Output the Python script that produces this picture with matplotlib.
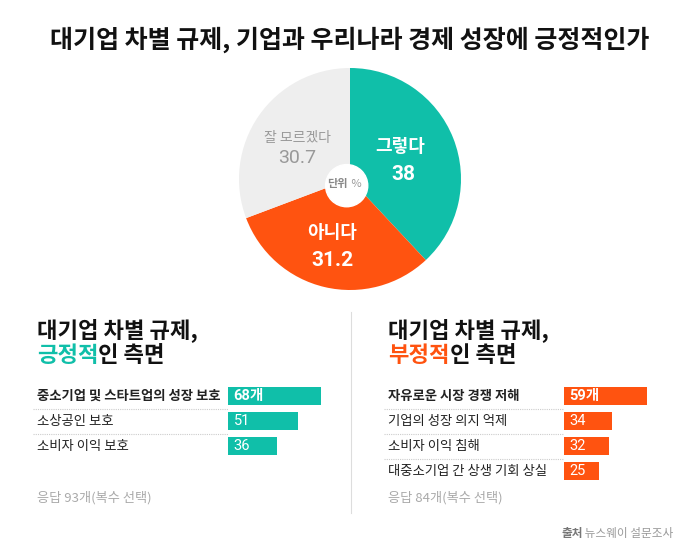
import matplotlib.pyplot as plt
from matplotlib.patches import Circle

plt.rcParams['font.family'] = ['Noto Sans CJK KR', 'DejaVu Sans']
NUM_FONT = ['Roboto', 'Noto Sans CJK KR']

# 조사 결과 (단위 %)
pie_labels = ['그렇다', '아니다', '잘 모르겠다']
pie_values = [38, 31.2, 30.7]
pie_colors = ['#10bfa9', '#ff5310', '#eeeeee']

# 긍정적 측면 (응답 93개, 복수 선택)
pos_labels = ['중소기업 및 스타트업의 성장 보호', '소상공인 보호', '소비자 이익 보호']
pos_values = [68, 51, 36]

# 부정적 측면 (응답 84개, 복수 선택)
neg_labels = ['자유로운 시장 경쟁 저해', '기업의 성장 의지 억제', '소비자 이익 침해',
              '대중소기업 간 상생 기회 상실']
neg_values = [59, 34, 32, 25]

TEAL = '#10bfa9'
ORANGE = '#ff5310'
W, H = 700, 552

fig = plt.figure(figsize=(7, 5.52), dpi=100)
fig.patch.set_facecolor('white')


def px_axes(x, y, w, h):
    # 픽셀 좌표(좌상단 기준)로 축 만들기
    return fig.add_axes([x / W, (H - y - h) / H, w / W, h / H])


# 파이 차트
cx, cy, r = 350, 179, 111
pax = px_axes(cx - r, cy - r, 2 * r, 2 * r)
pax.pie(pie_values, colors=pie_colors, startangle=90, counterclock=False,
        radius=1, wedgeprops=dict(linewidth=0))
pax.set_xlim(-1, 1)
pax.set_ylim(-1, 1)
pax.add_patch(Circle((-0.03, -0.06), 0.19, color='white', zorder=5))

# 글자용 덮개 축 (픽셀 좌표)
ax = fig.add_axes([0, 0, 1, 1])
ax.set_xlim(0, W)
ax.set_ylim(H, 0)
ax.axis('off')
ax.set_zorder(10)

ax.text(350, 40, '대기업 차별 규제, 기업과 우리나라 경제 성장에 긍정적인가',
        ha='center', va='center', fontsize=18, fontweight='heavy', color='#111111')

ax.text(348, 184, '단위', ha='right', va='center', fontsize=8,
        fontweight='bold', color='#888888')
ax.text(349, 184, ' %', ha='left', va='center', fontsize=8, color='#999999')

ax.text(400, 147, pie_labels[0], ha='center', va='center', fontsize=13,
        fontweight='bold', color='white')
ax.text(403, 175, f'{pie_values[0]:g}', ha='center', va='center', fontsize=15,
        fontweight='bold', color='white', family=NUM_FONT)
ax.text(332, 233, pie_labels[1], ha='center', va='center', fontsize=13,
        fontweight='bold', color='white')
ax.text(332, 260, f'{pie_values[1]:g}', ha='center', va='center', fontsize=15,
        fontweight='bold', color='white', family=NUM_FONT)
ax.text(297, 138, pie_labels[2], ha='center', va='center', fontsize=10,
        color='#999999')
ax.text(297, 158, f'{pie_values[2]:g}', ha='center', va='center', fontsize=14,
        color='#999999', family=NUM_FONT)

# 가운데 구분선
ax.plot([351, 351], [312, 513], color='#dddddd', lw=0.8)


def panel(x0, bar_x, sep_x1, word, color, labels, values, scale, note):
    ax.text(x0, 330, '대기업 차별 규제,', ha='left', va='center', fontsize=16,
            fontweight='heavy', color='#111111')
    t = ax.text(x0, 355, word, ha='left', va='center', fontsize=16,
                fontweight='heavy', color=color)
    ax.annotate('인 측면', xy=(1, 0.5), xycoords=t, ha='left', va='center',
                fontsize=16, fontweight='heavy', color='#111111')

    row0, step = 396, 25
    n = len(values)
    for i, lab in enumerate(labels):
        y = row0 + step * i
        ax.text(x0, y, lab, ha='left', va='center', fontsize=9.6,
                fontweight='bold' if i == 0 else 'normal', color='#222222')
        if i < n - 1:
            ax.plot([x0 - 4, sep_x1], [y + 12.5, y + 12.5], color='#cccccc',
                    lw=0.8, linestyle=(0, (1, 1)))

    bw = 130
    bax = px_axes(bar_x, row0 - step / 2, bw, step * n)
    bax.barh(range(n), values, height=0.72, color=color)
    bax.set_xlim(0, bw / scale)
    bax.set_ylim(n - 0.5, -0.5)
    bax.axis('off')
    for i, v in enumerate(values):
        bax.text(4, i, f'{v}개' if i == 0 else f'{v}', ha='left', va='center',
                 fontsize=10.5, fontweight='bold' if i == 0 else 'normal',
                 color='white', family=NUM_FONT)

    ax.text(x0, 498, note, ha='left', va='center', fontsize=9.5, color='#aaaaaa')


panel(37, 228, 228, '긍정적', TEAL, pos_labels, pos_values, 1.37,
      '응답 93개(복수 선택)')
panel(388, 564, 563, '부정적', ORANGE, neg_labels, neg_values, 1.40,
      '응답 84개(복수 선택)')

t = ax.text(561, 533, '출처', ha='left', va='center', fontsize=8.4,
            fontweight='bold', color='#777777')
ax.annotate(' 뉴스웨이 설문조사', xy=(1, 0.5), xycoords=t, ha='left', va='center',
            fontsize=8.4, color='#999999')

fig.savefig('out.png', dpi=100, facecolor='white')
